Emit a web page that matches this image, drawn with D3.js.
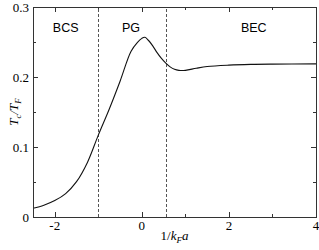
<!DOCTYPE html>
<html>
<head>
<meta charset="utf-8">
<script src="https://cdn.jsdelivr.net/npm/d3@7"></script>
<style>
  body { margin: 0; background: #fff; }
  svg { display: block; }
</style>
</head>
<body>
<svg id="chart" width="319" height="250"></svg>
<script>
// curve
const invKfa = [-2.5, -2.25, -2.0, -1.75, -1.5, -1.25, -1.0, -0.75, -0.5, -0.25, -0.1, 0.0, 0.07, 0.15, 0.25, 0.35, 0.45, 0.55, 0.65, 0.75, 0.85, 1.0, 1.25, 1.5, 2.0, 2.5, 3.0, 4.0];
const tcOverTf = [0.0124, 0.0169, 0.0235, 0.0335, 0.0505, 0.078, 0.117, 0.154, 0.194, 0.2365, 0.2495, 0.2552, 0.2567, 0.2525, 0.2445, 0.2348, 0.2265, 0.2198, 0.2145, 0.2110, 0.2095, 0.2095, 0.2125, 0.2150, 0.2170, 0.2180, 0.2184, 0.2187];

const boundaries = [-1.0, 0.56];
const regions = [
  { name: 'BCS', at: -1.75 },
  { name: 'PG', at: -0.25 },
  { name: 'BEC', at: 2.57 }
];
const xTickLabels = [-2, 0, 2, 4];
const yTickLabels = [0, 0.1, 0.2, 0.3];

const margin = { top: 7, right: 3, bottom: 33, left: 33 };
const width = 319, height = 250;

const svg = d3.select('#chart');

const x = d3.scaleLinear().domain([-2.5, 4]).range([margin.left, width - margin.right]);
const y = d3.scaleLinear().domain([0, 0.3]).range([height - margin.bottom, margin.top]);

const frameColor = '#333';

// ticks on all four sides, pointing in
const xMinor = d3.range(-2, 4.01, 1);
const yMinor = d3.range(0, 0.301, 0.05);

function tickLen(v, majors) {
  return majors.some(m => Math.abs(m - v) < 1e-6) ? 5 : 3;
}

const ticks = svg.append('g').attr('stroke', frameColor).attr('stroke-width', 1);
xMinor.forEach(v => {
  const len = tickLen(v, xTickLabels);
  const px = Math.round(x(v)) + 0.5;
  ticks.append('line').attr('x1', px).attr('x2', px).attr('y1', y(0)).attr('y2', y(0) - len);
  ticks.append('line').attr('x1', px).attr('x2', px).attr('y1', y(0.3)).attr('y2', y(0.3) + len);
});
yMinor.forEach(v => {
  const len = tickLen(v, yTickLabels);
  const py = Math.round(y(v)) + 0.5;
  ticks.append('line').attr('x1', x(-2.5)).attr('x2', x(-2.5) + len).attr('y1', py).attr('y2', py);
  ticks.append('line').attr('x1', x(4)).attr('x2', x(4) - len).attr('y1', py).attr('y2', py);
});

// dashed region boundaries
svg.append('g')
  .selectAll('line')
  .data(boundaries)
  .join('line')
  .attr('x1', d => Math.round(x(d)) + 0.5)
  .attr('x2', d => Math.round(x(d)) + 0.5)
  .attr('y1', y(0))
  .attr('y2', y(0.3))
  .attr('stroke', '#555')
  .attr('stroke-width', 1)
  .attr('stroke-dasharray', '3,2');

// curve
const pts = invKfa.map((v, i) => [v, tcOverTf[i]]);
svg.append('path')
  .datum(pts)
  .attr('fill', 'none')
  .attr('stroke', '#111')
  .attr('stroke-width', 1.1)
  .attr('d', d3.line().x(d => x(d[0])).y(d => y(d[1])).curve(d3.curveCatmullRom));

// frame
svg.append('rect')
  .attr('x', Math.round(x(-2.5)) + 0.5)
  .attr('y', Math.round(y(0.3)) + 0.5)
  .attr('width', Math.round(x(4)) - Math.round(x(-2.5)))
  .attr('height', Math.round(y(0)) - Math.round(y(0.3)))
  .attr('fill', 'none')
  .attr('stroke', frameColor)
  .attr('stroke-width', 1);

// tick labels
const serif = "'Liberation Serif', 'DejaVu Serif', serif";
svg.append('g')
  .selectAll('text')
  .data(xTickLabels)
  .join('text')
  .attr('x', d => x(d))
  .attr('y', y(0) + 13)
  .attr('text-anchor', 'middle')
  .attr('font-family', serif)
  .attr('font-size', 13)
  .text(d => d);

svg.append('g')
  .selectAll('text')
  .data(yTickLabels)
  .join('text')
  .attr('x', x(-2.5) - 4)
  .attr('y', d => y(d) + 4.5)
  .attr('text-anchor', 'end')
  .attr('font-family', serif)
  .attr('font-size', 13)
  .text(d => d);

// region labels
svg.append('g')
  .selectAll('text')
  .data(regions)
  .join('text')
  .attr('x', d => x(d.at))
  .attr('y', 32)
  .attr('text-anchor', 'middle')
  .attr('font-family', "'Liberation Sans', Arial, sans-serif")
  .attr('font-size', 12.5)
  .text(d => d.name);

// axis titles
const xt = svg.append('text')
  .attr('x', (x(-2.5) + x(4)) / 2)
  .attr('y', 240)
  .attr('text-anchor', 'middle')
  .attr('font-family', serif)
  .attr('font-size', 13);
xt.append('tspan').text('1/');
xt.append('tspan').attr('font-style', 'italic').text('k');
xt.append('tspan').attr('font-style', 'italic').attr('font-size', 9).attr('dy', 3).text('F');
xt.append('tspan').attr('font-style', 'italic').attr('dy', -3).text('a');

const yt = svg.append('text')
  .attr('transform', `translate(18,${(y(0) + y(0.3)) / 2}) rotate(-90)`)
  .attr('text-anchor', 'middle')
  .attr('font-family', serif)
  .attr('font-style', 'italic')
  .attr('font-size', 13);
yt.append('tspan').text('T');
yt.append('tspan').attr('font-size', 9).attr('dy', 3).text('c');
yt.append('tspan').attr('dy', -3).text('/T');
yt.append('tspan').attr('font-size', 9).attr('dy', 3).text('F');
</script>
</body>
</html>
